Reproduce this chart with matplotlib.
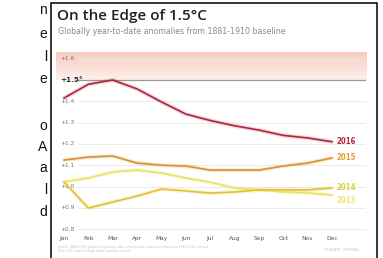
import numpy as np
import matplotlib
matplotlib.use("Agg")
import matplotlib.pyplot as plt
from matplotlib.patches import Rectangle

months = ["Jan", "Feb", "Mar", "Apr", "May", "Jun", "Jul", "Aug", "Sep", "Oct", "Nov", "Dec"]
yticks = [1.6, 1.5, 1.4, 1.3, 1.2, 1.1, 1.0, 0.9, 0.8]
ytick_labels = ["+1.6", "+1.5°", "+1.4", "+1.3", "+1.2", "+1.1", "+1.0", "+0.9", "+0.8"]

y2016 = [1.415, 1.48, 1.50, 1.458, 1.397, 1.34, 1.31, 1.285, 1.265, 1.24, 1.228, 1.21]
y2015 = [1.124, 1.138, 1.143, 1.11, 1.10, 1.096, 1.077, 1.077, 1.077, 1.096, 1.11, 1.134]
y2014 = [1.021, 0.899, 0.927, 0.955, 0.988, 0.979, 0.969, 0.974, 0.984, 0.984, 0.984, 0.993]
y2013 = [1.021, 1.04, 1.068, 1.077, 1.063, 1.04, 1.02, 0.993, 0.984, 0.974, 0.97, 0.96]

series = [
    ("2016", y2016, "#b3243c", "#b3243c"),
    ("2015", y2015, "#de8e2c", "#e2a032"),
    ("2014", y2014, "#e3c22e", "#dccf3e"),
    ("2013", y2013, "#e7e45c", "#ebe572"),
]

W, H = 383, 258
fig = plt.figure(figsize=(W / 100, H / 100), dpi=100)

# axes placed by pixel coordinates
ax_l, ax_r, ax_t, ax_b = 56, 366, 52, 232
ax = fig.add_axes([ax_l / W, 1 - ax_b / H, (ax_r - ax_l) / W, (ax_b - ax_t) / H])
px_month = (332 - 64) / 11
xmin = -(64 - ax_l) / px_month
xmax = 11 + (ax_r - 332) / px_month
px_unit = 213.0
ymax = 1.5 + (80 - ax_t) / px_unit
ymin = 1.5 - (ax_b - 80) / px_unit
ax.set_xlim(xmin, xmax)
ax.set_ylim(ymin, ymax)
for s in ax.spines.values():
    s.set_visible(False)
ax.set_yticks([])
ax.set_xticks(range(12))
ax.set_xticklabels(months, fontsize=4.2, color="#555555")
ax.tick_params(axis="x", length=0, pad=3)

# pink band above 1.5
grad = np.linspace(0, 1, 100).reshape(-1, 1)
cmap = matplotlib.colors.LinearSegmentedColormap.from_list("band", ["#fdf0ec", "#f7cbbf"])
ax.imshow(grad, cmap=cmap, aspect="auto", extent=[xmin, xmax, 1.5, ymax],
          origin="lower", zorder=0)

# gridlines and y labels
gx0 = (78 - ax_l) / (ax_r - ax_l)
for v, lab in zip(yticks, ytick_labels):
    if v == 1.5:
        ax.axhline(v, xmin=(75 - ax_l) / (ax_r - ax_l), xmax=1, color="#9a9a9a", lw=0.9, zorder=1)
        ax.text(0.015, v, lab, transform=ax.get_yaxis_transform(), fontsize=5.2,
                fontweight="bold", color="#333333", va="center", ha="left")
    else:
        ax.axhline(v, xmin=gx0, xmax=1, color="#e8e8e8", lw=0.6, zorder=1)
        ax.text(0.015, v, lab, transform=ax.get_yaxis_transform(), fontsize=4.2,
                color="#777777", va="center", ha="left")

x = np.arange(12)
for name, vals, col, lcol in series[::-1]:
    ax.plot(x, vals, color=col, lw=3.0, alpha=0.18, solid_capstyle="round", zorder=2)
    ax.plot(x, vals, color=col, lw=1.2, solid_capstyle="round", zorder=3)

label_y = {"2016": y2016[-1], "2015": y2015[-1], "2014": y2014[-1] + 0.002, "2013": y2013[-1] - 0.025}
for name, vals, col, lcol in series:
    ax.text(11.2, label_y[name], name, fontsize=5.6, fontweight="bold", color=lcol,
            fontstretch="condensed", va="center", ha="left")

# title and subtitle
fig.text(57 / W, 1 - 16 / H, "On the Edge of 1.5°C", fontsize=11, fontweight="semibold",
         family="Open Sans", color="#222222", va="center", ha="left")
fig.text(58 / W, 1 - 31 / H, "Globally year-to-date anomalies from 1881-1910 baseline",
         fontsize=5.7, color="#8a8a8a", va="center", ha="left")

# footer
fig.text(58 / W, 1 - 247 / H, "Source: NASA GISS global temperature data, year-to-date anomalies relative to 1881-1910 average",
         fontsize=2.2, color="#c4c4c4", va="center", ha="left")
fig.text(58 / W, 1 - 251 / H, "Note: 2016 data through latest available month",
         fontsize=2.2, color="#c4c4c4", va="center", ha="left")
fig.text(360 / W, 1 - 250 / H, "CLIMATE CENTRAL", fontsize=2.8, color="#c4c4c4",
         va="center", ha="right")

# frame
fig.patches.append(Rectangle((51 / W, -0.05), (377 - 51) / W, 1.05 - 3 / H,
                             transform=fig.transFigure, fill=False, ec="black", lw=1.1))

# cut-off page text on the left
left_letters = [("n", 10), ("e", 34), ("l", 57), ("e", 79), ("o", 126), ("A", 147),
                ("a", 168), ("l", 190), ("d", 212)]
for ch, yy in left_letters:
    fig.text(47 / W, 1 - yy / H, ch, fontsize=10, family="Liberation Sans", color="#111111",
             va="center", ha="right")

fig.savefig("out.png", dpi=100)
